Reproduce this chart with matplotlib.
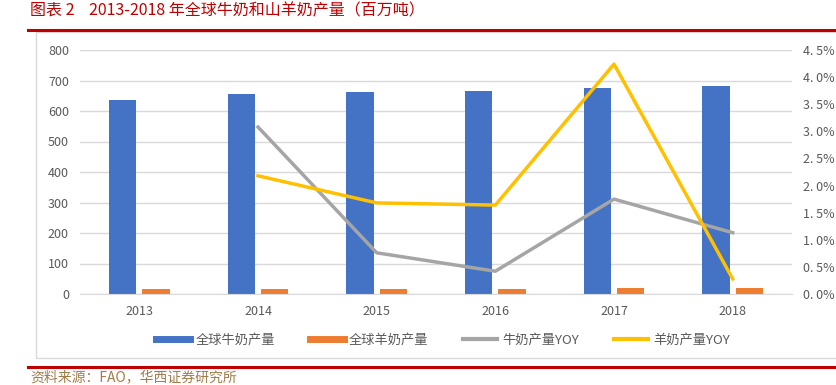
import numpy as np
import matplotlib.pyplot as plt
from matplotlib.patches import Rectangle
from matplotlib.lines import Line2D
from matplotlib.ticker import FuncFormatter

plt.rcParams['font.family'] = ['Noto Sans CJK SC', 'DejaVu Sans']

# data
years = ['2013', '2014', '2015', '2016', '2017', '2018']
cow_milk = [636, 656, 662, 665, 676, 683]      # 全球牛奶产量 (百万吨)
goat_milk = [17, 17, 18, 18, 19, 19]           # 全球羊奶产量
cow_yoy = [None, 3.08, 0.76, 0.42, 1.75, 1.13]  # %
goat_yoy = [None, 2.18, 1.68, 1.64, 4.24, 0.28]

blue = '#4472c4'
orange = '#ed7d31'
gray = '#a5a5a5'
yellow = '#ffc000'
tick_color = '#595959'

fig = plt.figure(figsize=(8.37, 3.85), dpi=100)

# title and source
fig.text(30 / 837, 1 - 11 / 385, '图表 2    2013-2018 年全球牛奶和山羊奶产量（百万吨）',
         color='#c00000', fontsize=11.5, va='center', ha='left')
fig.add_artist(Line2D([28 / 837, 1], [1 - 30 / 385] * 2, color='#c00000', lw=2.2))
fig.add_artist(Line2D([28 / 837, 1], [1 - 367 / 385] * 2, color='#c00000', lw=2.2))
fig.text(30 / 837, 1 - 377 / 385, '资料来源：FAO，华西证券研究所',
         color='#a07c4a', fontsize=10, va='center', ha='left')
fig.add_artist(Rectangle((36 / 837, 1 - 358 / 385), 1 - 36 / 837 + 0.01, (358 - 32) / 385,
                         fill=False, edgecolor='#d9d9d9', lw=1))

ax = fig.add_axes([80 / 837, 1 - 294 / 385, (792 - 80) / 837, (294 - 50) / 385])
x = np.arange(len(years))
w = 0.23
ax.bar(x - 0.14, cow_milk, w, color=blue, zorder=2)
ax.bar(x + 0.14, goat_milk, w, color=orange, zorder=2)
ax.set_ylim(0, 800)
ax.set_yticks(np.arange(0, 801, 100))
ax.set_xlim(-0.5, len(years) - 0.5)
ax.set_xticks(x)
ax.set_xticklabels(years)
ax.grid(axis='y', color='#d9d9d9', lw=1, zorder=0)
for s in ax.spines.values():
    s.set_visible(False)
ax.spines['bottom'].set_visible(True)
ax.spines['bottom'].set_color('#d9d9d9')
ax.tick_params(length=0, labelsize=9, colors=tick_color, pad=8)

ax2 = ax.twinx()
ax2.plot(x[1:], cow_yoy[1:], color=gray, lw=2.5, zorder=3)
ax2.plot(x[1:], goat_yoy[1:], color=yellow, lw=2.5, zorder=3)
ax2.set_ylim(0, 4.5)
ax2.set_yticks(np.arange(0, 4.51, 0.5))
ax2.yaxis.set_major_formatter(FuncFormatter(lambda v, p: f'{v:.1f}%'.replace('.', '. ')))
for s in ax2.spines.values():
    s.set_visible(False)
ax2.tick_params(length=0, labelsize=9, colors=tick_color, pad=8)

handles = [Line2D([], [], color=blue, lw=5),
           Line2D([], [], color=orange, lw=5),
           Line2D([], [], color=gray, lw=3),
           Line2D([], [], color=yellow, lw=3)]
labels = ['全球牛奶产量', '全球羊奶产量', '牛奶产量YOY', '羊奶产量YOY']
leg = fig.legend(handles, labels, loc='center', bbox_to_anchor=(443 / 837, 1 - 340 / 385),
                 ncol=4, frameon=False, fontsize=9.5, handlelength=2.6, columnspacing=2.6,
                 handletextpad=0.4)
for t in leg.get_texts():
    t.set_color(tick_color)

fig.savefig('out.png', dpi=100)
